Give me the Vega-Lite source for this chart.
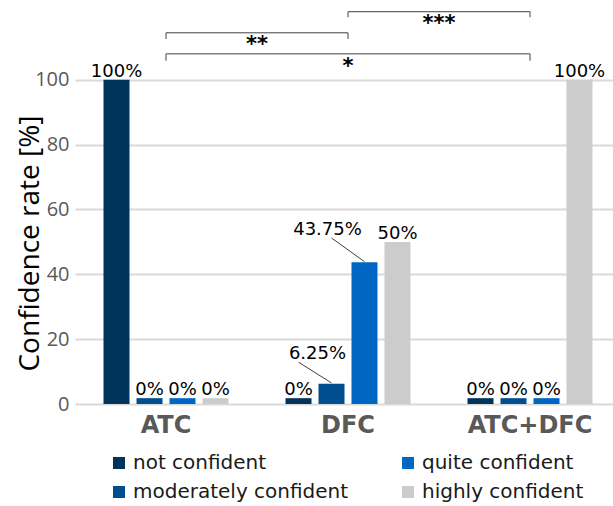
{
  "$schema": "https://vega.github.io/schema/vega-lite/v6.json",
  "width": 546,
  "height": 402,
  "autosize": "none",
  "padding": {"left": 75, "top": 2, "right": 0, "bottom": 102},
  "config": {"view": {"stroke": null}},
  "datasets": {
    "bars": [
      {"group": "ATC", "level": "not confident", "value": 100, "bar": 100, "label": "100%"},
      {"group": "ATC", "level": "moderately confident", "value": 0, "bar": 1.8, "label": "0%"},
      {"group": "ATC", "level": "quite confident", "value": 0, "bar": 1.8, "label": "0%"},
      {"group": "ATC", "level": "highly confident", "value": 0, "bar": 1.8, "label": "0%"},
      {"group": "DFC", "level": "not confident", "value": 0, "bar": 1.8, "label": "0%"},
      {"group": "DFC", "level": "moderately confident", "value": 6.25, "bar": 6.25, "label": "6.25%"},
      {"group": "DFC", "level": "quite confident", "value": 43.75, "bar": 43.75, "label": "43.75%"},
      {"group": "DFC", "level": "highly confident", "value": 50, "bar": 50, "label": "50%"},
      {"group": "ATC+DFC", "level": "not confident", "value": 0, "bar": 1.8, "label": "0%"},
      {"group": "ATC+DFC", "level": "moderately confident", "value": 0, "bar": 1.8, "label": "0%"},
      {"group": "ATC+DFC", "level": "quite confident", "value": 0, "bar": 1.8, "label": "0%"},
      {"group": "ATC+DFC", "level": "highly confident", "value": 100, "bar": 100, "label": "100%"}
    ],
    "leaders": [
      {"id": "a", "group": "DFC", "level": "moderately confident", "y": 6.5},
      {"id": "a", "group": "DFC", "level": "not confident", "y": 12.9},
      {"id": "b", "group": "DFC", "level": "quite confident", "y": 43.9},
      {"id": "b", "group": "DFC", "level": "moderately confident", "y": 51.2}
    ],
    "brackets": [
      {"from": "ATC", "to": "DFC", "y": 114.5, "yt": 112.6},
      {"from": "DFC", "to": "ATC+DFC", "y": 121.0, "yt": 119.3},
      {"from": "ATC", "to": "ATC+DFC", "y": 108.0, "yt": 105.9}
    ],
    "starsEdge": [
      {"at": "DFC", "y": 110.6, "t": "**"},
      {"at": "ATC+DFC", "y": 117.3, "t": "***"}
    ],
    "starsMid": [
      {"at": "DFC", "y": 104.0, "t": "*"}
    ]
  },
  "layer": [
    {
      "data": {"name": "bars"},
      "mark": {"type": "bar"},
      "encoding": {
        "x": {
          "field": "group", "type": "nominal",
          "scale": {"domain": ["ATC", "DFC", "ATC+DFC"], "paddingInner": 0, "paddingOuter": 0},
          "axis": {"title": null, "labelAngle": 0, "labelFont": "DejaVu Sans", "labelFontSize": 24, "labelFontWeight": "bold", "labelColor": "#595959", "ticks": false, "domain": false, "labelPadding": 9}
        },
        "xOffset": {
          "field": "level", "type": "nominal",
          "scale": {"domain": ["not confident", "moderately confident", "quite confident", "highly confident"], "paddingInner": 0.212, "paddingOuter": 0.864}
        },
        "y": {
          "field": "bar", "type": "quantitative",
          "scale": {"domain": [0, 124], "nice": false, "zero": true},
          "axis": {"title": "Confidence rate [%]", "values": [0, 20, 40, 60, 80, 100], "grid": true, "gridColor": "#d9d9d9", "gridWidth": 2, "ticks": false, "domain": false, "labelFont": "Open Sans", "labelFontSize": 20, "labelColor": "#595959", "labelPadding": 6, "titleFont": "Open Sans", "titleFontSize": 28, "titleFontWeight": "normal", "titleColor": "#000000", "titleX": -45, "titleY": 241, "titleAngle": -90, "titleAlign": "center", "titleBaseline": "middle"}
        },
        "color": {
          "field": "level", "type": "nominal",
          "scale": {
            "domain": ["not confident", "moderately confident", "quite confident", "highly confident"],
            "range": ["#00345b", "#004e8f", "#0066c4", "#cccccc"]
          },
          "legend": {"orient": "none", "legendX": 34, "legendY": 451, "columns": 2, "title": null, "symbolType": "square", "symbolSize": 144, "symbolStrokeWidth": 0, "labelFont": "DejaVu Sans", "labelFontSize": 20, "labelColor": "#1a1a1a", "labelOffset": 4, "labelLimit": 0, "columnPadding": 49, "rowPadding": 9, "padding": 0}
        }
      }
    },
    {
      "data": {"name": "bars"},
      "transform": [{"filter": "datum.value != 6.25 && datum.value != 43.75"}],
      "mark": {"type": "text", "font": "DejaVu Sans", "fontSize": 18, "baseline": "alphabetic", "dy": -3, "color": "#000000"},
      "encoding": {
        "x": {"field": "group", "type": "nominal"},
        "xOffset": {"field": "level", "type": "nominal"},
        "y": {"field": "bar", "type": "quantitative"},
        "text": {"field": "label"}
      }
    },
    {
      "data": {"name": "bars"},
      "transform": [{"filter": "datum.value == 43.75"}],
      "mark": {"type": "text", "font": "DejaVu Sans", "fontSize": 18, "baseline": "alphabetic", "dx": -37, "dy": -27, "color": "#000000"},
      "encoding": {
        "x": {"field": "group", "type": "nominal"},
        "xOffset": {"field": "level", "type": "nominal"},
        "y": {"field": "bar", "type": "quantitative"},
        "text": {"field": "label"}
      }
    },
    {
      "data": {"name": "bars"},
      "transform": [{"filter": "datum.value == 6.25"}],
      "mark": {"type": "text", "font": "DejaVu Sans", "fontSize": 18, "baseline": "alphabetic", "dx": -14, "dy": -25, "color": "#000000"},
      "encoding": {
        "x": {"field": "group", "type": "nominal"},
        "xOffset": {"field": "level", "type": "nominal"},
        "y": {"field": "bar", "type": "quantitative"},
        "text": {"field": "label"}
      }
    },
    {
      "data": {"name": "leaders"},
      "mark": {"type": "line", "color": "#404040", "strokeWidth": 1},
      "encoding": {
        "x": {"field": "group", "type": "nominal"},
        "xOffset": {"field": "level", "type": "nominal"},
        "y": {"field": "y", "type": "quantitative"},
        "detail": {"field": "id"}
      }
    },
    {
      "data": {"name": "brackets"},
      "mark": {"type": "rule", "color": "#404040", "strokeWidth": 1},
      "encoding": {
        "x": {"field": "from", "type": "nominal", "bandPosition": 0.5},
        "x2": {"field": "to"},
        "y": {"field": "y", "type": "quantitative"}
      }
    },
    {
      "data": {"name": "brackets"},
      "mark": {"type": "rule", "color": "#404040", "strokeWidth": 1},
      "encoding": {
        "x": {"field": "from", "type": "nominal", "bandPosition": 0.5},
        "y": {"field": "y", "type": "quantitative"},
        "y2": {"field": "yt"}
      }
    },
    {
      "data": {"name": "brackets"},
      "mark": {"type": "rule", "color": "#404040", "strokeWidth": 1},
      "encoding": {
        "x": {"field": "to", "type": "nominal", "bandPosition": 0.5},
        "y": {"field": "y", "type": "quantitative"},
        "y2": {"field": "yt"}
      }
    },
    {
      "data": {"name": "starsEdge"},
      "mark": {"type": "text", "font": "DejaVu Sans", "fontSize": 21, "fontWeight": "bold", "baseline": "middle", "color": "#000000"},
      "encoding": {
        "x": {"field": "at", "type": "nominal", "bandPosition": 0},
        "y": {"field": "y", "type": "quantitative"},
        "text": {"field": "t"}
      }
    },
    {
      "data": {"name": "starsMid"},
      "mark": {"type": "text", "font": "DejaVu Sans", "fontSize": 21, "fontWeight": "bold", "baseline": "middle", "color": "#000000"},
      "encoding": {
        "x": {"field": "at", "type": "nominal", "bandPosition": 0.5},
        "y": {"field": "y", "type": "quantitative"},
        "text": {"field": "t"}
      }
    }
  ]
}
